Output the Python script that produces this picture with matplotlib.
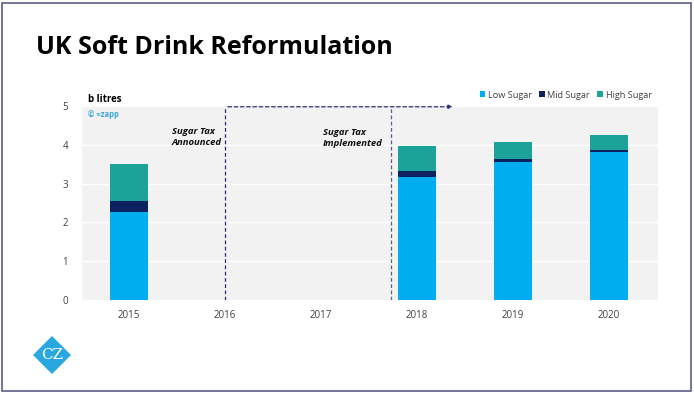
import numpy as np
import matplotlib
matplotlib.use('Agg')
import matplotlib.pyplot as plt
from matplotlib.patches import Rectangle, Polygon

plt.rcParams['font.family'] = ['Open Sans', 'DejaVu Sans']

years = ['2015', '2016', '2017', '2018', '2019', '2020']
low_sugar = [2.28, 0, 0, 3.17, 3.56, 3.81]
mid_sugar = [0.28, 0, 0, 0.15, 0.07, 0.06]
high_sugar = [0.94, 0, 0, 0.65, 0.43, 0.39]
series_names = ['Low Sugar', 'Mid Sugar', 'High Sugar']
colors = ['#00AEEF', '#0B2160', '#1BA39A']

fig = plt.figure(figsize=(6.94, 3.94), dpi=100)
ax = fig.add_axes([82 / 694, 1 - 300 / 394, 576 / 694, 194 / 394])
ax.set_facecolor('#F2F2F2')

x = np.arange(len(years))
bottom = np.zeros(len(years))
for vals, name, c in zip([low_sugar, mid_sugar, high_sugar], series_names, colors):
    ax.bar(x, vals, 0.4, bottom=bottom, color=c, label=name, zorder=3)
    bottom += np.array(vals)

ax.set_xlim(-0.49, 5.51)
ax.set_ylim(0, 5)
ax.set_yticks([0, 1, 2, 3, 4, 5])
ax.set_xticks(x)
ax.set_xticklabels(years)
ax.grid(axis='y', color='white', lw=1, zorder=1)
for s in ax.spines.values():
    s.set_visible(False)
ax.tick_params(length=0, labelsize=7, colors='#404040', pad=7)
ax.tick_params(axis='y', pad=10)

# tax markers
ax.axvline(1.0, color='#2B3070', lw=0.9, ls=(0, (3, 2)), zorder=4)
ax.axvline(2.73, color='#5A5F90', lw=0.9, ls=(0, (3, 2)), zorder=4)
ax.annotate('', xy=(3.4, 4.98), xytext=(1.0, 4.98),
            arrowprops=dict(arrowstyle='-|>', color='#2B3070', lw=0.9,
                            ls=(0, (3, 2)), mutation_scale=6),
            annotation_clip=False, zorder=5)
ax.text(0.965, 4.2, 'Sugar Tax\nAnnounced', fontsize=6.8, fontweight='bold',
        style='italic', ha='right', multialignment='left', va='center',
        color='#111111', linespacing=1.3)
ax.text(2.64, 4.18, 'Sugar Tax\nImplemented', fontsize=6.8, fontweight='bold',
        style='italic', ha='right', multialignment='left', va='center',
        color='#111111', linespacing=1.3)
ax.text(0.01, 0.955, '© ≈zapp', transform=ax.transAxes, fontsize=5.5,
        color='#3AA7D8', fontweight='bold', ha='left', va='center')

fig.text(88 / 694, 1 - 100 / 394, 'b litres', fontsize=7, fontweight='bold',
         ha='left', va='center')
fig.text(36 / 694, 1 - 48 / 394, 'UK Soft Drink Reformulation', fontsize=18,
         fontweight='bold', ha='left', va='center')

ax.legend(loc='lower right', bbox_to_anchor=(1.0, 1.0), ncol=3, frameon=False,
          fontsize=6.6, handlelength=0.6, handleheight=0.6, handletextpad=0.3,
          columnspacing=0.8, borderaxespad=0.5, labelcolor='#404040',
          borderpad=0.2)

# border
fig.patches.append(Rectangle((2 / 694, 3 / 394), 689 / 694, 388 / 394,
                             transform=fig.transFigure, fill=False,
                             edgecolor='#5B5F86', lw=1.2))

# logo
cx, cy, r = 52, 355, 19
pts = [((cx) / 694, 1 - (cy - r) / 394), ((cx + r) / 694, 1 - cy / 394),
       (cx / 694, 1 - (cy + r) / 394), ((cx - r) / 694, 1 - cy / 394)]
fig.patches.append(Polygon(pts, closed=True, transform=fig.transFigure,
                           facecolor='#29A8E0', edgecolor='none'))
fig.text(cx / 694, 1 - cy / 394, 'CZ', fontsize=11, color='white',
         family='DejaVu Serif', ha='center', va='center')

fig.savefig('out.png', dpi=100)
